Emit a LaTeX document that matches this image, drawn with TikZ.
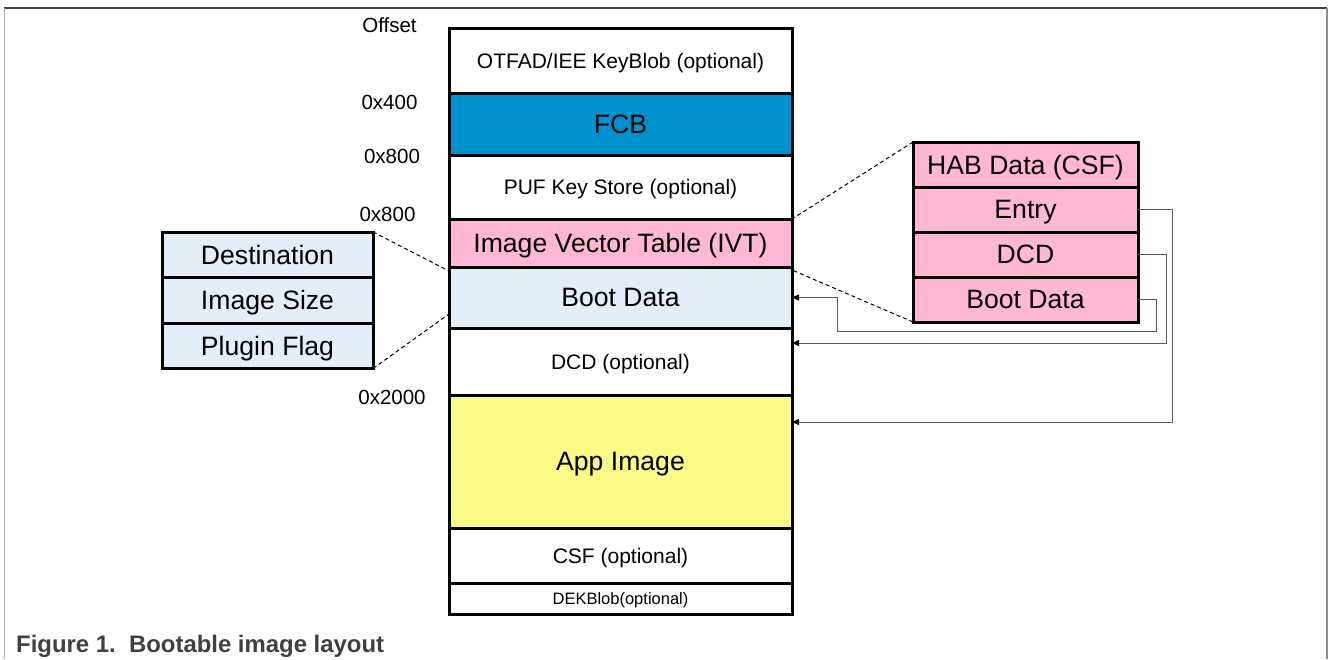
\documentclass[tikz,border=0pt]{standalone}
\usepackage{fontspec}
\setmainfont{Liberation Sans}
\usetikzlibrary{positioning,arrows.meta}
\definecolor{fcbblue}{RGB}{0,146,206}
\definecolor{ivtpink}{RGB}{255,183,213}
\definecolor{bootblue}{RGB}{227,238,248}
\definecolor{appyellow}{RGB}{250,250,135}

\begin{document}
\begin{tikzpicture}[x=1pt,y=-1pt,node distance=0pt]
  \tikzstyle{seg}=[draw,line width=3pt,outer sep=0pt,inner sep=0pt,minimum width=343pt,text depth=0pt,font=\fontsize{21}{25}\selectfont]
  \tikzstyle{big}=[font=\fontsize{26.6}{32}\selectfont]
  \tikzstyle{field}=[draw,line width=3pt,outer sep=0pt,inner sep=0pt,text depth=0pt,font=\fontsize{26.6}{32}\selectfont]
  \tikzstyle{bootfield}=[field,fill=bootblue,minimum width=211pt,minimum height=45.5pt]
  \tikzstyle{ivtfield}=[field,fill=ivtpink,minimum width=225pt,minimum height=45pt]
  \tikzstyle{offs}=[inner sep=0pt,font=\fontsize{20.5}{24}\selectfont]
  \tikzstyle{zoomline}=[line width=1pt,dash pattern=on 4pt off 3pt]
  \tikzstyle{link}=[draw=black!65,line width=1pt,-{Triangle[length=7pt,width=6pt,color=black]}]
  \useasboundingbox (0,0) rectangle (1328,659);
  % frame
  \draw[black!75,line width=1.5pt] (4,8) -- (1327,8);
  \draw[black!30,line width=1pt] (4,8) -- (4,659);
  \draw[black!45,line width=2pt] (1327,8) -- (1327,659);
  % image layout
  \node[seg,minimum height=65pt] (otfad) at (620.5,60.5) {OTFAD/IEE KeyBlob (optional)};
  \node[seg,big,fill=fcbblue,minimum height=62pt] (fcb) [below=of otfad] {FCB};
  \node[seg,minimum height=64pt] (puf) [below=of fcb] {PUF Key Store (optional)};
  \node[seg,big,fill=ivtpink,minimum height=48pt] (ivt) [below=of puf] {Image Vector Table (IVT)};
  \node[seg,big,fill=bootblue,minimum height=61pt] (boot) [below=of ivt] {Boot Data};
  \node[seg,minimum height=67pt] (dcd) [below=of boot] {DCD (optional)};
  \node[seg,big,fill=appyellow,minimum height=133pt] (app) [below=of dcd] {App Image};
  \node[seg,minimum height=55pt] (csf) [below=of app] {CSF (optional)};
  \node[seg,minimum height=31pt,font=\fontsize{16.5}{20}\selectfont] (dek) [below=of csf] {DEKBlob(optional)};
  % offsets
  \node[offs] (off0) at (389.5,25) {Offset};
  \node[offs] (off1) at (389.5,102) {0x400};
  \node[offs] (off2) at (392,156) {0x800};
  \node[offs] (off3) at (387.5,214) {0x800};
  \node[offs] (off4) at (392,397) {0x2000};
  % boot data fields
  \node[bootfield] (dest) at (267.5,254.75) {Destination};
  \node[bootfield] (imgsize) [below=of dest] {Image Size};
  \node[bootfield] (plugin) [below=of imgsize] {Plugin Flag};
  % ivt fields
  \node[ivtfield] (hab) at (1025.5,164.5) {HAB Data (CSF)};
  \node[ivtfield] (entry) [below=of hab] {Entry};
  \node[ivtfield] (dcdptr) [below=of entry] {DCD};
  \node[ivtfield] (bootptr) [below=of dcdptr] {Boot Data};
  % zoom lines
  \draw[zoomline] (dest.north east) -- ([yshift=-4pt]boot.north west);
  \draw[zoomline] (plugin.south east) -- ([yshift=14pt]boot.south west);
  \draw[zoomline] (hab.north west) -- (ivt.north east);
  \draw[zoomline] (bootptr.south west) -- ([yshift=-3pt]ivt.south east);
  % pointers
  \path[link] (entry.east) -- ++(34,0) |- ([yshift=-27pt]app.north east);
  \path[link] (dcdptr.east) -- ++(28,0) |- ([yshift=-15pt]dcd.north east);
  \path[link] (bootptr.east) -- ++(18,0) -- ++(0,32) -| ([xshift=45pt]boot.east) -- (boot.east);
  % caption
  \node[anchor=base west,inner sep=0pt,text=black!75,font=\bfseries\fontsize{23.9}{28}\selectfont] (caption) at (16,652.5) {Figure 1.\ \ Bootable image layout};
\end{tikzpicture}
\end{document}
